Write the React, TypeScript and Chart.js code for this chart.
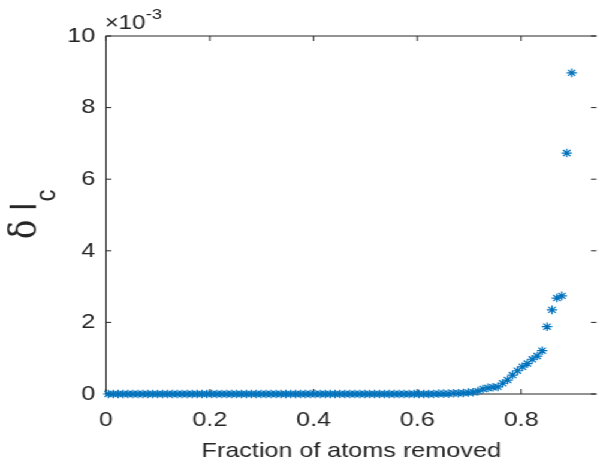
import React, { useEffect, useRef } from "react";
import { Chart, registerables } from "chart.js";

Chart.register(...registerables);

// Fraction of atoms removed (x) and delta I_c in units of 1e-3 (y)
const fractionRemoved = [
  0.0045, 0.014, 0.0235, 0.033, 0.0425, 0.052, 0.0615, 0.071, 0.0805, 0.09,
  0.0995, 0.109, 0.1185, 0.128, 0.1375, 0.147, 0.1565, 0.166, 0.1755, 0.185,
  0.1945, 0.204, 0.2135, 0.223, 0.2325, 0.242, 0.2515, 0.261, 0.2705, 0.28,
  0.2895, 0.299, 0.3085, 0.318, 0.3275, 0.337, 0.3465, 0.356, 0.3655, 0.375,
  0.3845, 0.394, 0.4035, 0.413, 0.4225, 0.432, 0.4415, 0.451, 0.4605, 0.47,
  0.4795, 0.489, 0.4985, 0.508, 0.5175, 0.527, 0.5365, 0.546, 0.5555, 0.565,
  0.5745, 0.584, 0.5935, 0.603, 0.6125, 0.622, 0.6315, 0.641, 0.6505, 0.66,
  0.6695, 0.679, 0.6885, 0.698, 0.7075, 0.717, 0.7265, 0.736, 0.7455, 0.755,
  0.7645, 0.774, 0.7835, 0.793, 0.8025, 0.812, 0.8215, 0.831, 0.8405, 0.85,
  0.8595, 0.869, 0.8785, 0.888, 0.8975,
];
const deltaIc = [
  0, 0, 0, 0, 0, 0, 0, 0, 0, 0,
  0, 0, 0, 0, 0, 0, 0, 0, 0, 0,
  0, 0, 0, 0, 0, 0, 0, 0, 0, 0,
  0, 0, 0, 0, 0, 0, 0, 0, 0, 0,
  0, 0, 0, 0, 0, 0, 0, 0, 0, 0,
  0, 0, 0, 0, 0, 0, 0, 0, 0, 0,
  0, 0, 0, 0, 0, 0, 0, 0.01, 0.01, 0.01,
  0.02, 0.02, 0.03, 0.04, 0.05, 0.08, 0.14, 0.17, 0.19, 0.2,
  0.3, 0.39, 0.53, 0.65, 0.76, 0.85, 0.97, 1.06, 1.21, 1.88,
  2.35, 2.68, 2.74, 6.73, 8.97,
];

const xTicks = [0, 0.2, 0.4, 0.6, 0.8];
const xMax = 0.945;
const yTicks = [0, 2, 4, 6, 8, 10];
const xTitle = "Fraction of atoms removed";
const yTitleSymbol = "δ";
const yTitleMain = " I";
const yTitleSub = "c";
const exponentBase = "×10";
const exponentPower = "-3";

const STRETCH_W = 503;
const FULL_W = 603;
const H = 466;
const AXIS = "#262626";
const BLUE = "#0072BD";
const SANS = "'Liberation Sans', Arial, sans-serif";

export default function App() {
  const canvasRef = useRef<HTMLCanvasElement | null>(null);

  useEffect(() => {
    const canvas = canvasRef.current;
    if (!canvas) return;

    const framePlugin = {
      id: "frame",
      beforeDraw(chart: any) {
        const ctx = chart.ctx;
        ctx.save();
        ctx.fillStyle = "#ffffff";
        ctx.fillRect(0, 0, chart.width, chart.height);
        ctx.restore();
      },
      beforeDatasetsDraw(chart: any) {
        const ctx = chart.ctx;
        const { left, right, top, bottom } = chart.chartArea;
        const xs = chart.scales.x;
        const ys = chart.scales.y;
        ctx.save();
        ctx.strokeStyle = AXIS;
        ctx.lineWidth = 1;
        ctx.beginPath();
        ctx.moveTo(left, top);
        ctx.lineTo(left, bottom);
        ctx.moveTo(left, bottom);
        ctx.lineTo(right, bottom);
        ctx.moveTo(left, top);
        ctx.lineTo(right, top);
        xs.ticks.forEach((t: any) => {
          const px = xs.getPixelForValue(t.value);
          ctx.moveTo(px, bottom);
          ctx.lineTo(px, bottom - 5);
          ctx.moveTo(px, top);
          ctx.lineTo(px, top + 5);
        });
        ys.ticks.forEach((t: any) => {
          const py = ys.getPixelForValue(t.value);
          ctx.moveTo(left, py);
          ctx.lineTo(left + 4.5, py);
          ctx.moveTo(right, py);
          ctx.lineTo(right - 4.5, py);
        });
        ctx.stroke();
        ctx.restore();
      },
      afterDraw(chart: any) {
        const ctx = chart.ctx;
        const { left, right, top, bottom } = chart.chartArea;
        ctx.save();
        ctx.fillStyle = AXIS;
        ctx.textBaseline = "alphabetic";
        // x title
        ctx.font = `21px ${SANS}`;
        ctx.textAlign = "center";
        ctx.fillText(xTitle, (left + right) / 2, 457);
        // exponent label
        ctx.textAlign = "left";
        ctx.font = `20px ${SANS}`;
        ctx.fillText(exponentBase, left - 1, 29);
        const wBase = ctx.measureText(exponentBase).width;
        ctx.font = `15px ${SANS}`;
        ctx.fillText(exponentPower, left - 1 + wBase + 0.5, 19);
        // y title (rotated)
        ctx.translate(30, (top + bottom) / 2 + 24);
        ctx.rotate(-Math.PI / 2);
        ctx.font = `32px 'DejaVu Serif', 'Liberation Serif', serif`;
        ctx.fillText(yTitleSymbol, 0, 0);
        let adv = ctx.measureText(yTitleSymbol).width;
        ctx.font = `31px ${SANS}`;
        ctx.fillText(yTitleMain, adv, 0);
        adv += ctx.measureText(yTitleMain).width;
        ctx.font = `24px ${SANS}`;
        ctx.fillText(yTitleSub, adv + 1, 16);
        ctx.restore();
      },
    };

    const chart = new Chart(canvas, {
      type: "scatter",
      data: {
        datasets: [
          {
            data: fractionRemoved.map((x, i) => ({ x, y: deltaIc[i] })),
            pointStyle: "star",
            pointRadius: 4.3,
            pointHoverRadius: 4.3,
            borderColor: BLUE,
            backgroundColor: BLUE,
            borderWidth: 1.2,
            showLine: false,
            clip: false as any,
          },
        ],
      },
      options: {
        animation: false,
        responsive: true,
        maintainAspectRatio: false,
        layout: { padding: { top: 36, right: 0, left: 0, bottom: 0 } },
        plugins: {
          legend: { display: false },
          tooltip: { enabled: false },
          title: { display: false },
        },
        events: [],
        scales: {
          x: {
            type: "linear",
            min: 0,
            max: xMax,
            grid: { display: false, drawTicks: false },
            border: { display: false },
            afterBuildTicks: (scale: any) => {
              scale.ticks = xTicks.map((v) => ({ value: v }));
            },
            afterFit: (scale: any) => {
              scale.height = 72;
              scale.paddingLeft = 0;
              scale.paddingRight = 0;
            },
            ticks: {
              autoSkip: false,
              maxRotation: 0,
              padding: 14,
              color: AXIS,
              font: { family: SANS, size: 21 },
              callback: (v: any) => String(Number(Number(v).toFixed(1))),
            },
          },
          y: {
            type: "linear",
            min: yTicks[0],
            max: yTicks[yTicks.length - 1],
            grid: { display: false, drawTicks: false },
            border: { display: false },
            afterBuildTicks: (scale: any) => {
              scale.ticks = yTicks.map((v) => ({ value: v }));
            },
            afterFit: (scale: any) => {
              scale.width = 88.4;
            },
            ticks: {
              padding: 9,
              color: AXIS,
              font: { family: SANS, size: 21 },
              callback: (v: any) => String(v),
            },
          },
        },
      },
      plugins: [framePlugin],
    });

    return () => chart.destroy();
  }, []);

  return (
    <div
      style={{
        position: "absolute",
        left: 0,
        top: 0,
        width: STRETCH_W,
        height: H,
        transform: `scaleX(${FULL_W / STRETCH_W})`,
        transformOrigin: "0 0",
        background: "#fff",
      }}
    >
      <canvas ref={canvasRef} />
    </div>
  );
}
